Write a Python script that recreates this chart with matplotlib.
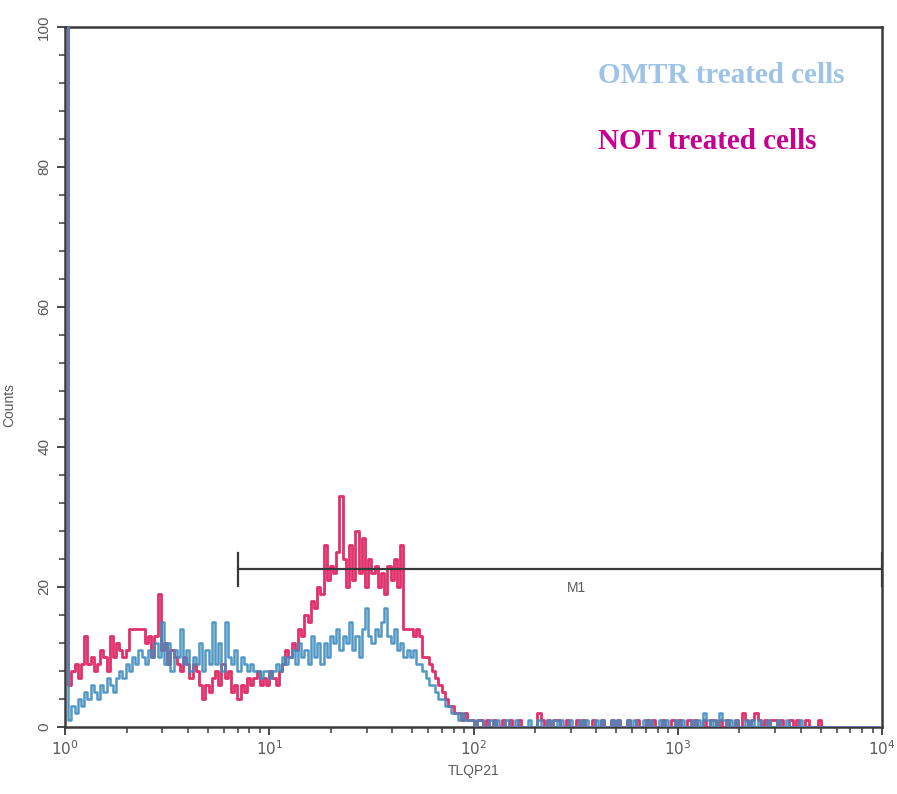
import numpy as np
import matplotlib
matplotlib.use("Agg")
import matplotlib.pyplot as plt
from matplotlib.ticker import FixedLocator, LogLocator, NullFormatter

# Flow cytometry histogram: 256 log-spaced channels over 10^0 .. 10^4
N_CHANNELS = 256

not_treated = [
    105, 6, 8, 9, 7, 9, 13, 9, 10, 8, 9, 11, 10, 8, 13, 10,
    12, 11, 10, 11, 14, 14, 14, 14, 14, 12, 13, 10, 13, 19, 11, 12,
    9, 11, 10, 9, 8, 10, 9, 7, 9, 8, 6, 4, 6, 5, 7, 8,
    6, 9, 7, 8, 5, 6, 4, 6, 5, 7, 6, 7, 8, 6, 7, 6,
    8, 7, 6, 8, 9, 11, 10, 12, 11, 14, 13, 16, 15, 18, 17, 20,
    19, 26, 21, 23, 22, 25, 33, 24, 20, 26, 21, 28, 22, 27, 20, 24,
    22, 23, 20, 22, 19, 23, 21, 24, 20, 26, 14, 14, 14, 13, 14, 13,
    10, 10, 9, 8, 7, 6, 5, 4, 3, 3, 2, 2, 1, 2, 1, 1,
    0, 1, 1, 0, 1, 0, 1, 0, 0, 1, 0, 1, 0, 0, 1, 0,
    0, 0, 0, 0, 2, 1, 0, 1, 0, 1, 1, 0, 0, 1, 0, 0,
    1, 0, 1, 0, 0, 1, 0, 0, 1, 0, 0, 1, 0, 1, 0, 0,
    1, 0, 0, 1, 0, 0, 1, 0, 1, 0, 0, 1, 0, 0, 1, 0,
    1, 0, 0, 1, 0, 1, 0, 0, 1, 0, 1, 1, 0, 1, 0, 1,
    0, 0, 1, 0, 2, 1, 0, 1, 2, 1, 0, 1, 0, 1, 1, 0,
    1, 0, 0, 1, 0, 1, 0, 0, 1, 0, 0, 0, 1, 0, 0, 0,
    0, 0, 0, 0, 0, 0, 0, 0, 0, 0, 0, 0, 0, 0, 0, 0,
]

omtr_treated = [
    110, 1, 3, 2, 4, 3, 5, 4, 6, 5, 4, 6, 5, 7, 6, 5,
    7, 8, 7, 9, 8, 10, 9, 11, 10, 9, 11, 10, 12, 10, 15, 9,
    12, 8, 11, 10, 14, 9, 11, 8, 10, 9, 12, 8, 11, 9, 15, 9,
    12, 8, 15, 10, 9, 11, 8, 10, 9, 8, 9, 8, 8, 7, 8, 8,
    7, 8, 9, 8, 10, 9, 10, 11, 9, 12, 10, 11, 9, 13, 10, 12,
    9, 12, 10, 13, 12, 14, 11, 13, 12, 15, 11, 13, 10, 14, 17, 13,
    12, 14, 13, 15, 17, 13, 12, 14, 11, 12, 10, 11, 10, 11, 9, 9,
    8, 7, 6, 6, 5, 4, 4, 3, 3, 2, 2, 1, 2, 1, 1, 1,
    0, 1, 1, 0, 0, 1, 0, 1, 0, 0, 1, 0, 0, 1, 0, 0,
    0, 1, 0, 0, 1, 0, 0, 1, 0, 1, 0, 1, 0, 0, 1, 0,
    0, 1, 0, 1, 0, 0, 1, 0, 1, 0, 0, 1, 0, 1, 0, 0,
    1, 0, 1, 0, 0, 1, 0, 1, 0, 0, 1, 0, 1, 0, 0, 1,
    0, 1, 0, 0, 1, 0, 1, 0, 2, 1, 0, 1, 0, 2, 1, 0,
    1, 0, 1, 0, 0, 1, 0, 1, 0, 1, 0, 0, 1, 0, 0, 1,
    0, 0, 1, 0, 0, 0, 1, 0, 0, 0, 0, 0, 0, 0, 0, 0,
    0, 0, 0, 0, 0, 0, 0, 0, 0, 0, 0, 0, 0, 0, 0, 0,
]

y_ticks = [0, 20, 40, 60, 80, 100]
x_ticks = [1, 10, 100, 1000, 10000]
x_tick_labels = [r"$10^0$", r"$10^1$", r"$10^2$", r"$10^3$", r"$10^4$"]

gate_name = "M1"
gate_range = (7.0, 10000.0)
gate_height = 22.5

RED = "#e2306a"
BLUE = "#3f8dbe"
AXIS = "#3a3a3a"
TEXT = "#5a5a5a"

plt.rcParams["font.family"] = ["Liberation Sans", "DejaVu Sans"]

fig = plt.figure(figsize=(8.97, 7.94), dpi=100)
ax = fig.add_axes([0.0725, 0.0844, 0.9108, 0.8816])

edges = 10 ** (np.arange(N_CHANNELS + 1) * 4.0 / N_CHANNELS)
red_vals = np.append(not_treated, not_treated[-1])
blue_vals = np.append(omtr_treated, omtr_treated[-1])

ax.step(edges, red_vals, where="post", color=RED, lw=2.0, zorder=3)
ax.step(edges, blue_vals, where="post", color=BLUE, lw=1.8, alpha=0.9, zorder=4)

# marker gate
ax.plot(gate_range, [gate_height, gate_height], color=AXIS, lw=1.6, zorder=5)
for gx in gate_range:
    ax.plot([gx, gx], [gate_height - 2.3, gate_height + 2.3], color=AXIS, lw=1.6, zorder=5)
ax.text(np.sqrt(7.0 * 10000.0) * 1.2, gate_height - 1.6, gate_name, ha="center", va="top",
        fontsize=10, color=TEXT)

ax.set_xscale("log")
ax.set_xlim(1, 10000)
ax.set_ylim(0, 100)

ax.xaxis.set_major_locator(FixedLocator(x_ticks))
ax.set_xticklabels(x_tick_labels)
ax.xaxis.set_minor_locator(LogLocator(base=10, subs=np.arange(2, 10)))
ax.xaxis.set_minor_formatter(NullFormatter())
ax.set_yticks(y_ticks)
ax.set_yticks(np.arange(0, 101, 4), minor=True)
ax.set_yticklabels([str(v) for v in y_ticks], rotation=90, va="center")

ax.tick_params(axis="both", which="major", length=6, width=1.3, color=AXIS,
               labelsize=11, labelcolor=TEXT, direction="out")
ax.tick_params(axis="both", which="minor", length=4, width=1.1, color=AXIS, direction="out")
ax.tick_params(axis="y", pad=4)
ax.tick_params(axis="x", pad=3)

for s in ax.spines.values():
    s.set_color(AXIS)
    s.set_linewidth(1.8)

ax.set_xlabel("TLQP21", fontsize=10, color=TEXT, labelpad=4)
ax.set_ylabel("Counts", fontsize=10, color=TEXT)
ax.yaxis.set_label_coords(-0.06, 0.46)

fig.text(0.667, 0.905, "OMTR treated cells", fontsize=21, fontweight="bold",
         family="Liberation Serif", color="#9dc3e6", ha="left", va="center")
fig.text(0.667, 0.822, "NOT treated cells", fontsize=21, fontweight="bold",
         family="Liberation Serif", color="#c8008f", ha="left", va="center")

fig.savefig("out.png", dpi=100)
